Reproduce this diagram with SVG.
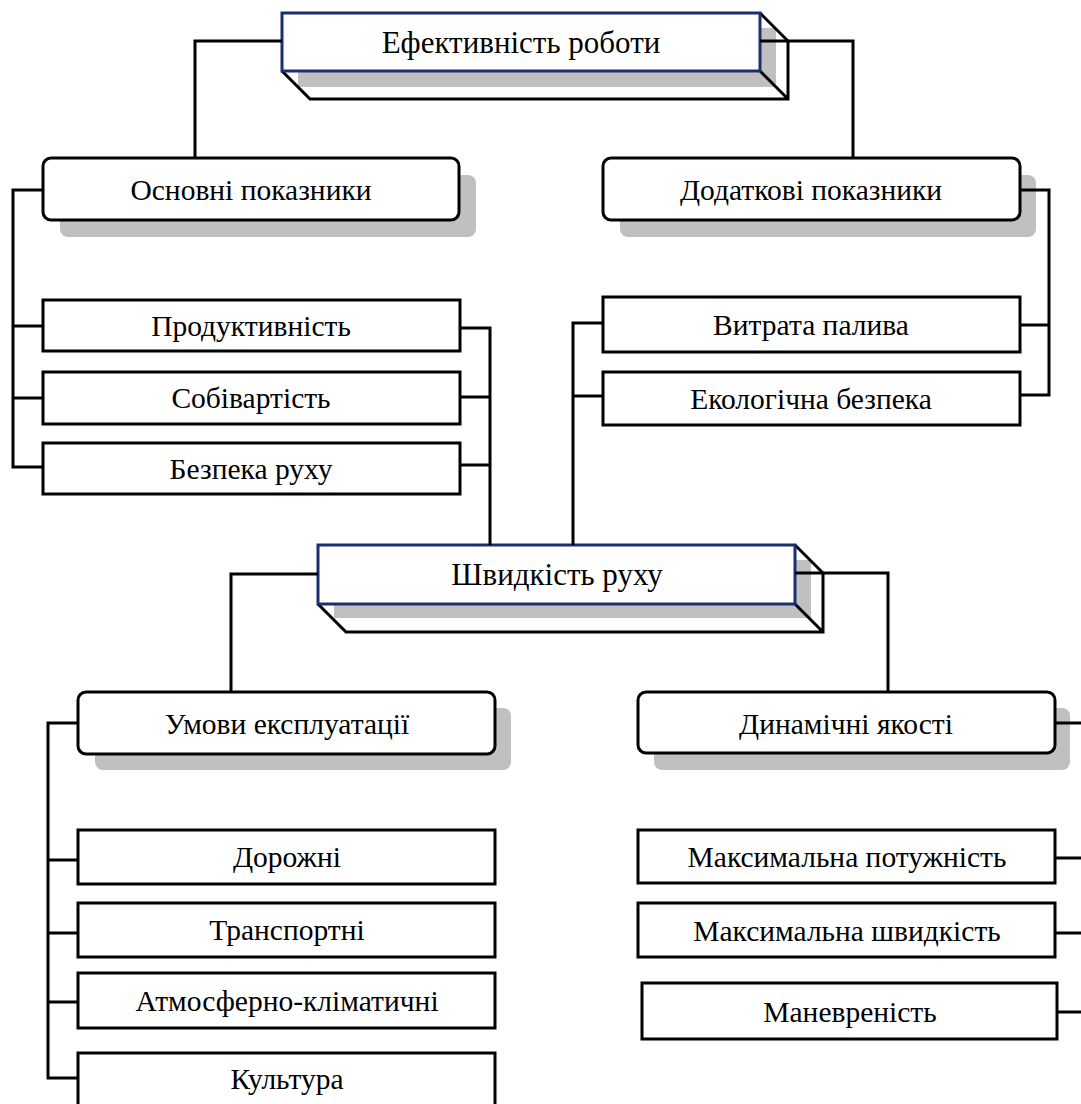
<svg xmlns="http://www.w3.org/2000/svg" width="1081" height="1104" viewBox="0 0 1081 1104">
<defs>
<style>
.t{font-family:"Liberation Serif","Times New Roman",serif;font-size:29.5px;fill:#000;text-anchor:middle}
.t3{font-size:31px}
.box{fill:#fff;stroke:#000;stroke-width:3}
.rbox{fill:#fff;stroke:#000;stroke-width:3}
.sh{fill:#c0c0c0}
.front{fill:#fff;stroke:#1a2f6e;stroke-width:3}
.edge{fill:none;stroke:#000;stroke-width:3;stroke-linejoin:miter}
.ln{fill:none;stroke:#000;stroke-width:3;stroke-linejoin:miter}
</style>
</defs>
<rect width="1081" height="1104" fill="#fff"/>
<g id="nodes">
<g id="efektyvnist">
<rect class="sh" x="298" y="28" width="478" height="59"/>
<path class="edge" d="M760,13 L788,41 L788,99 L310,99 L282,71 M760,71 L788,99"/>
<rect class="front" x="282" y="13" width="478" height="58"/>
<text class="t t3" x="521" y="53">Ефективність роботи</text>
</g>
<g id="osnovni">
<rect class="sh" x="60" y="175" width="416" height="62" rx="8"/>
<rect class="rbox" x="43" y="158" width="416" height="62" rx="8"/>
<text class="t" x="251" y="200">Основні показники</text>
</g>
<g id="dodatkovi">
<rect class="sh" x="620" y="175" width="416" height="62" rx="8"/>
<rect class="rbox" x="603" y="158" width="417" height="62" rx="8"/>
<text class="t" x="811" y="200">Додаткові показники</text>
</g>
<g id="produktyvnist">
<rect class="box" x="43" y="300" width="417" height="51"/>
<text class="t" x="251" y="336">Продуктивність</text>
</g>
<g id="sobivartist">
<rect class="box" x="43" y="372" width="417" height="52"/>
<text class="t" x="251" y="408">Собівартість</text>
</g>
<g id="bezpeka">
<rect class="box" x="43" y="443" width="417" height="51"/>
<text class="t" x="251" y="479">Безпека руху</text>
</g>
<g id="vytrata">
<rect class="box" x="603" y="297" width="417" height="55"/>
<text class="t" x="811" y="335">Витрата палива</text>
</g>
<g id="ekologichna">
<rect class="box" x="603" y="372" width="417" height="53"/>
<text class="t" x="811" y="409">Екологічна безпека</text>
</g>
<g id="shvydkist">
<rect class="sh" x="334" y="560" width="477" height="58"/>
<path class="edge" d="M795,545 L823,573 L823,632 L346,632 L318,604 M795,604 L823,632"/>
<rect class="front" x="318" y="545" width="477" height="59"/>
<text class="t t3" x="557" y="585">Швидкість руху</text>
</g>
<g id="umovy">
<rect class="sh" x="95" y="708" width="416" height="62" rx="8"/>
<rect class="rbox" x="78" y="692" width="417" height="62" rx="8"/>
<text class="t" x="287" y="734">Умови експлуатації</text>
</g>
<g id="dynamichni">
<rect class="sh" x="654" y="708" width="416" height="62" rx="8"/>
<rect class="rbox" x="638" y="692" width="417" height="61" rx="8"/>
<text class="t" x="846" y="734">Динамічні якості</text>
</g>
<g id="dorozhni">
<rect class="box" x="78" y="830" width="417" height="54"/>
<text class="t" x="287" y="867">Дорожні</text>
</g>
<g id="transportni">
<rect class="box" x="78" y="903" width="417" height="54"/>
<text class="t" x="287" y="940">Транспортні</text>
</g>
<g id="atmosferno">
<rect class="box" x="78" y="973" width="417" height="55"/>
<text class="t" x="287" y="1011">Атмосферно-кліматичні</text>
</g>
<g id="kultura">
<rect class="box" x="78" y="1053" width="417" height="60"/>
<text class="t" x="287" y="1089">Культура</text>
</g>
<g id="max-potuzhnist">
<rect class="box" x="638" y="830" width="417" height="53"/>
<text class="t" x="847" y="867">Максимальна потужність</text>
</g>
<g id="max-shvydkist">
<rect class="box" x="638" y="903" width="417" height="54"/>
<text class="t" x="847" y="941">Максимальна швидкість</text>
</g>
<g id="manevrenist">
<rect class="box" x="642" y="983" width="415" height="56"/>
<text class="t" x="850" y="1022">Маневреність</text>
</g>
</g>
<g id="connectors">
<path class="ln" d="M282,41 H195 V158"/>
<path class="ln" d="M760,41 H853 V158"/>
<path class="ln" d="M43,190 H13 V467 H43 M13,326 H43 M13,398 H43"/>
<path class="ln" d="M460,328 H490 V545 M460,397 H490 M460,465 H490"/>
<path class="ln" d="M1020,190 H1049 V395 H1020 M1049,325 H1020"/>
<path class="ln" d="M603,323 H573 V545 M573,396 H603"/>
<path class="ln" d="M318,574 H231 V692"/>
<path class="ln" d="M795,573 H888 V692"/>
<path class="ln" d="M78,723 H48 V1078 H78 M48,860 H78 M48,933 H78 M48,1002 H78"/>
<path class="ln" d="M1055,723 H1081"/>
<path class="ln" d="M1055,858 H1081 M1055,933 H1081 M1057,1012 H1081"/>
</g>
</svg>
